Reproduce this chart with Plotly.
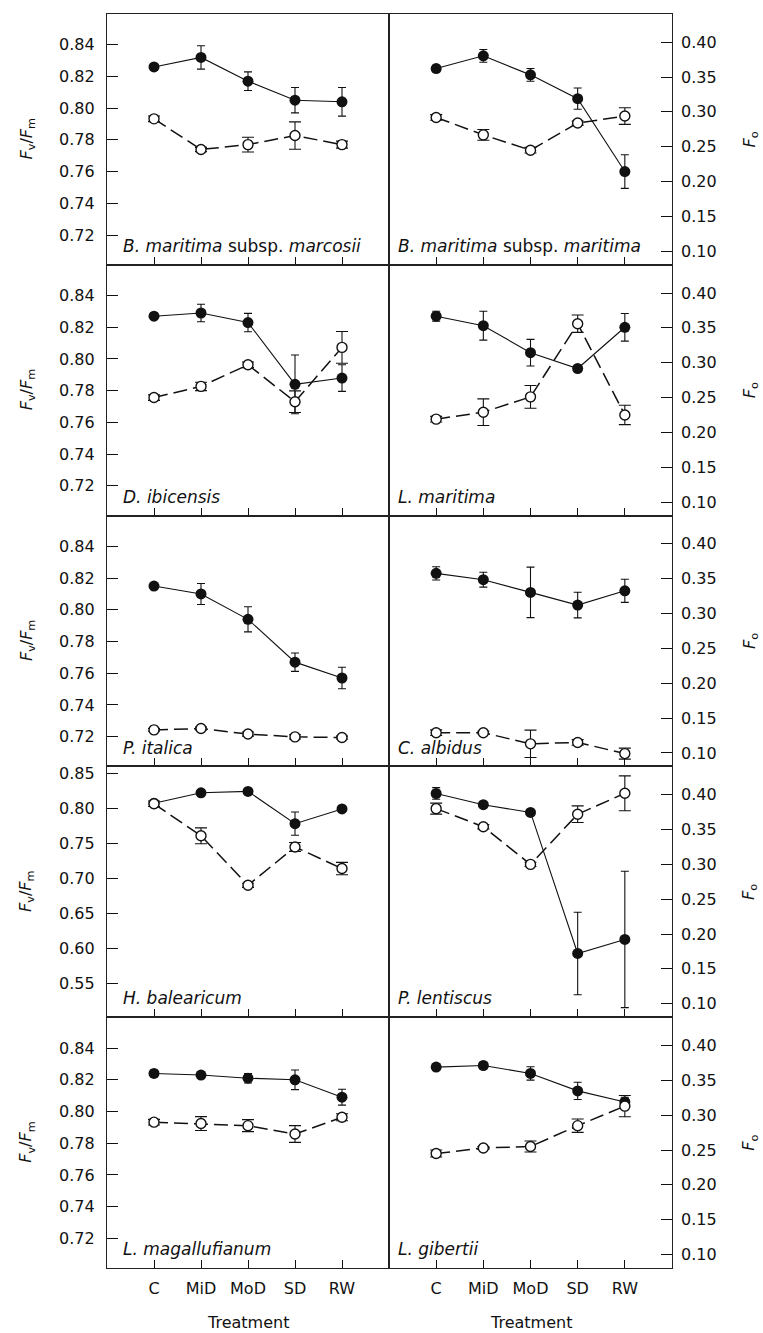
import plotly.graph_objects as go

# Treatments along the x axis
TREATMENTS = ["C", "MiD", "MoD", "SD", "RW"]

# Species, in panel order (row by row, left then right)
SPECIES = [
    "<i>B. maritima</i> subsp. <i>marcosii</i>",
    "<i>B. maritima</i> subsp. <i>maritima</i>",
    "<i>D. ibicensis</i>",
    "<i>L. maritima</i>",
    "<i>P. italica</i>",
    "<i>C. albidus</i>",
    "<i>H. balearicum</i>",
    "<i>P. lentiscus</i>",
    "<i>L. magallufianum</i>",
    "<i>L. gibertii</i>",
]

# Maximum quantum efficiency of PSII (Fv/Fm), mean and SE
FVFM = [
    [0.826, 0.832, 0.817, 0.805, 0.804],
    [0.825, 0.833, 0.821, 0.806, 0.760],
    [0.827, 0.829, 0.823, 0.784, 0.788],
    [0.827, 0.821, 0.804, 0.794, 0.820],
    [0.815, 0.810, 0.794, 0.767, 0.757],
    [0.823, 0.819, 0.811, 0.803, 0.812],
    [0.807, 0.822, 0.824, 0.778, 0.799],
    [0.821, 0.805, 0.794, 0.593, 0.613],
    [0.824, 0.823, 0.821, 0.820, 0.809],
    [0.828, 0.829, 0.824, 0.813, 0.806],
]
FVFM_SE = [
    [0.002, 0.0074, 0.0059, 0.008, 0.009],
    [0.002, 0.004, 0.004, 0.0067, 0.0106],
    [0.002, 0.0055, 0.0058, 0.0185, 0.0084],
    [0.0031, 0.0091, 0.0084, 0.001, 0.0087],
    [0.001, 0.0066, 0.0079, 0.0058, 0.0068],
    [0.0042, 0.0047, 0.0159, 0.0081, 0.0073],
    [0.003, 0.002, 0.002, 0.0166, 0.003],
    [0.0083, 0.002, 0.002, 0.0588, 0.0972],
    [0.002, 0.002, 0.003, 0.0062, 0.005],
    [0.002, 0.002, 0.0042, 0.0054, 0.003],
]

# Minimal fluorescence (Fo), mean and SE
FO = [
    [0.290, 0.246, 0.253, 0.266, 0.253],
    [0.292, 0.267, 0.245, 0.284, 0.294],
    [0.250, 0.266, 0.297, 0.244, 0.322],
    [0.219, 0.229, 0.251, 0.356, 0.225],
    [0.133, 0.135, 0.127, 0.123, 0.122],
    [0.129, 0.129, 0.113, 0.115, 0.099],
    [0.387, 0.341, 0.270, 0.325, 0.294],
    [0.380, 0.354, 0.300, 0.372, 0.402],
    [0.290, 0.288, 0.285, 0.273, 0.297],
    [0.245, 0.253, 0.255, 0.285, 0.313],
]
FO_SE = [
    [0.004, 0.003, 0.0105, 0.0196, 0.005],
    [0.004, 0.0077, 0.004, 0.003, 0.012],
    [0.004, 0.006, 0.004, 0.0155, 0.0227],
    [0.004, 0.0191, 0.0163, 0.0124, 0.0139],
    [0.002, 0.002, 0.003, 0.003, 0.002],
    [0.004, 0.002, 0.0196, 0.004, 0.0079],
    [0.004, 0.0114, 0.003, 0.0064, 0.0088],
    [0.0079, 0.003, 0.003, 0.0119, 0.025],
    [0.004, 0.01, 0.0086, 0.012, 0.005],
    [0.005, 0.002, 0.0079, 0.0096, 0.0153],
]

# Axis scales
FVFM_TICKS = [0.72, 0.74, 0.76, 0.78, 0.80, 0.82, 0.84]
FVFM_TICKS_WIDE = [0.55, 0.60, 0.65, 0.70, 0.75, 0.80, 0.85]
FO_TICKS = [0.10, 0.15, 0.20, 0.25, 0.30, 0.35, 0.40]

W, H = 763, 1333
FONT = "DejaVu Sans"
INK = "#111111"
FRAME = "#222222"

X_LEFT, X_MID, X_RIGHT = 107, 389, 672
ROW_TOP, ROW_H = 11, 251.4
N_ROWS = 5

FVFM_RANGE = [0.7012, 0.8594]
FVFM_RANGE_WIDE = [0.502, 0.8595]
FO_RANGE = [0.0805, 0.4405]


def px_x(p):
    return p / W


def px_y(p):
    return 1 - p / H


fig = go.Figure()
layout = {}
annotations = []

for k in range(len(SPECIES)):
    row, col = divmod(k, 2)
    xi = k + 1
    yp = 2 * k + 1
    ys = 2 * k + 2
    top = ROW_TOP + row * ROW_H
    bot = top + ROW_H
    xdom = [px_x(X_LEFT), px_x(X_MID)] if col == 0 else [px_x(X_MID), px_x(X_RIGHT)]
    ydom = [px_y(bot), px_y(top)]
    wide = (row == 3)

    # Fv/Fm: filled circles, solid line
    fig.add_trace(go.Scatter(
        x=TREATMENTS, y=FVFM[k],
        error_y=dict(type="data", array=FVFM_SE[k], color=INK, thickness=1.1, width=4),
        mode="lines+markers",
        line=dict(color=INK, width=1.1),
        marker=dict(symbol="circle", size=11, color=INK, line=dict(color=INK, width=0)),
        xaxis=f"x{xi}", yaxis=f"y{yp}", showlegend=False,
    ))
    # Fo: open circles, dashed line
    fig.add_trace(go.Scatter(
        x=TREATMENTS, y=FO[k],
        error_y=dict(type="data", array=FO_SE[k], color=INK, thickness=1.1, width=6),
        mode="lines+markers",
        line=dict(color=INK, width=1.5, dash="14px,6px"),
        marker=dict(symbol="circle", size=10, color="white", line=dict(color=INK, width=1.4)),
        xaxis=f"x{xi}", yaxis=f"y{ys}", showlegend=False,
    ))

    tickfont = dict(family=FONT, size=16, color=INK)

    layout[f"xaxis{xi}"] = dict(
        domain=xdom, anchor=f"y{yp}", type="category",
        categoryorder="array", categoryarray=TREATMENTS,
        range=[-1, 5], ticks="inside", ticklen=8, tickwidth=1, tickcolor=INK,
        showline=True, mirror=True, linecolor=FRAME, linewidth=1.2,
        showgrid=False, zeroline=False, fixedrange=True,
        showticklabels=(row == N_ROWS - 1), tickfont=tickfont,
        ticklabelstandoff=6,
    )

    fv_ticks = FVFM_TICKS_WIDE if wide else FVFM_TICKS
    layout[f"yaxis{yp}"] = dict(
        domain=ydom, anchor=f"x{xi}",
        range=FVFM_RANGE_WIDE if wide else FVFM_RANGE,
        tickvals=fv_ticks, ticktext=[f"{v:.2f}" for v in fv_ticks],
        ticks="inside" if col == 0 else "", ticklen=11, tickwidth=1, tickcolor=INK,
        showticklabels=(col == 0), tickfont=tickfont,
        showline=True, mirror=True, linecolor=FRAME, linewidth=1.2,
        showgrid=False, zeroline=False, fixedrange=True,
        ticklabelstandoff=8,
    )
    layout[f"yaxis{ys}"] = dict(
        overlaying=f"y{yp}", anchor=f"x{xi}", side="right",
        range=FO_RANGE,
        tickvals=FO_TICKS, ticktext=[f"{v:.2f}" for v in FO_TICKS],
        ticks="inside" if col == 1 else "", ticklen=11, tickwidth=1, tickcolor=INK,
        showticklabels=(col == 1), tickfont=tickfont,
        showline=False, showgrid=False, zeroline=False, fixedrange=True,
        ticklabelstandoff=8,
    )

    # Species name in the lower-left corner of the panel
    annotations.append(dict(
        text=SPECIES[k], xref="paper", yref="paper",
        x=px_x(121 if col == 0 else 396), y=px_y(bot - 19),
        xanchor="left", yanchor="middle", showarrow=False,
        font=dict(family=FONT, size=17, color=INK),
    ))

# Axis titles for each row
for row in range(N_ROWS):
    mid = ROW_TOP + row * ROW_H + ROW_H / 2
    annotations.append(dict(
        text="<i>F</i><sub>v</sub>/<i>F</i><sub>m</sub>", xref="paper", yref="paper",
        x=px_x(27), y=px_y(mid), textangle=-90, showarrow=False,
        xanchor="center", yanchor="middle",
        font=dict(family=FONT, size=16, color=INK),
    ))
    annotations.append(dict(
        text="<i>F</i><sub>o</sub>", xref="paper", yref="paper",
        x=px_x(750), y=px_y(mid), textangle=-90, showarrow=False,
        xanchor="center", yanchor="middle",
        font=dict(family=FONT, size=16, color=INK),
    ))

# x-axis title under each column
for cx in [(X_LEFT + X_MID) / 2, (X_MID + X_RIGHT) / 2]:
    annotations.append(dict(
        text="Treatment", xref="paper", yref="paper",
        x=px_x(cx), y=px_y(1322.7), showarrow=False,
        xanchor="center", yanchor="middle",
        font=dict(family=FONT, size=16, color=INK),
    ))

fig.update_layout(
    width=W, height=H, autosize=False,
    margin=dict(l=0, r=0, t=0, b=0),
    paper_bgcolor="white", plot_bgcolor="white",
    annotations=annotations,
    **layout,
)

fig.write_html("out.html")
